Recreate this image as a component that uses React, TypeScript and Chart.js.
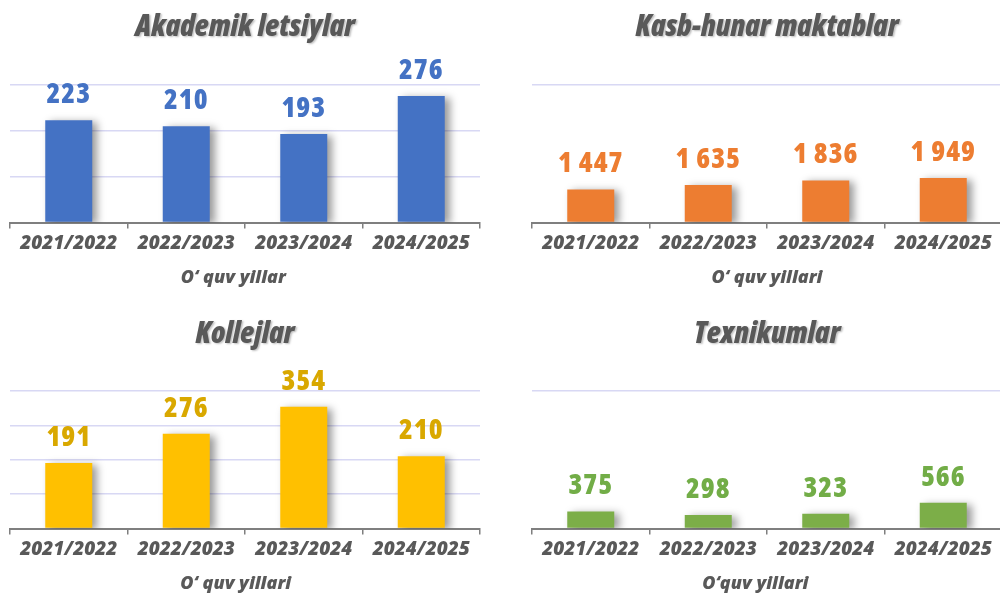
import React, { useEffect, useRef } from 'react';
import { Chart, registerables } from 'chart.js';

Chart.register(...registerables);

const categories = ['2021/2022', '2022/2023', '2023/2024', '2024/2025'];
const akademikValues = [223, 210, 193, 276];
const kasbValues = [1447, 1635, 1836, 1949];
const kollejValues = [191, 276, 354, 210];
const texnikumValues = [375, 298, 323, 566];

const panelTitles = ['Akademik letsiylar', 'Kasb-hunar maktablar', 'Kollejlar', 'Texnikumlar'];
const axisTitles = ['O‘ quv yillar     ', 'O‘ quv yillari', 'O‘ quv yillari    ', 'O‘quv yillari     '];
const yMaxValues = [300, 6000, 400, 3000];
const yStepValues = [100, 6000, 100, 3000];
const barColors = ['#4472C4', '#ED7D31', '#FFC000', '#7CAE48'];
const labelColors = ['#4472C4', '#ED7D31', '#D9A800', '#72AD47'];

const TEXT_GRAY = '#595959';
const OPEN = '"Open Sans", "DejaVu Sans Condensed", sans-serif';

const fmt = (v: number) => String(v).replace(/\B(?=(\d{3})+(?!\d))/g, ' ');

const shadowPlugin = {
  id: 'barShadow',
  beforeLayout(chart: any) {
    const tb = chart.titleBlock;
    if (tb && !tb.__shadowWrapped) {
      const orig = tb.draw.bind(tb);
      tb.draw = (...args: any[]) => {
        const ctx = chart.ctx;
        ctx.save();
        ctx.shadowColor = 'rgba(0,0,0,0.25)';
        ctx.shadowBlur = 2;
        ctx.shadowOffsetX = 1.5;
        ctx.shadowOffsetY = 1.5;
        orig(...args);
        ctx.restore();
      };
      tb.__shadowWrapped = true;
    }
  },
  beforeDatasetsDraw(chart: any) {
    const ctx = chart.ctx;
    ctx.save();
    ctx.shadowColor = 'rgba(0,0,0,0.4)';
    ctx.shadowBlur = 8;
    ctx.shadowOffsetX = 5;
    ctx.shadowOffsetY = 2;
  },
  afterDatasetsDraw(chart: any) {
    chart.ctx.restore();
  },
};

const labelPlugin = {
  id: 'valueLabels',
  afterDatasetsDraw(chart: any, _args: any, opts: any) {
    const ctx = chart.ctx;
    const meta = chart.getDatasetMeta(0);
    const data = chart.data.datasets[0].data as number[];
    ctx.save();
    ctx.font = `800 condensed 28px ${OPEN}`;
    (ctx as any).letterSpacing = '1px';
    ctx.fillStyle = opts.color;
    ctx.textAlign = 'center';
    ctx.textBaseline = 'alphabetic';
    meta.data.forEach((bar: any, i: number) => {
      ctx.fillText(fmt(data[i]), bar.x, bar.y - 17);
    });
    ctx.restore();
  },
};

type PanelProps = {
  idx: number;
  values: number[];
  left: number;
  top: number;
  width: number;
  height: number;
  padLeft: number;
  padRight: number;
  padBottom: number;
  titleTop: number;
};

function Panel({ idx, values, left, top, width, height, padLeft, padRight, padBottom, titleTop }: PanelProps) {
  const ref = useRef<HTMLCanvasElement | null>(null);
  useEffect(() => {
    if (!ref.current) return;
    const chart = new Chart(ref.current, {
      type: 'bar',
      data: {
        labels: categories,
        datasets: [
          {
            data: values,
            backgroundColor: barColors[idx],
            borderWidth: 0,
            barPercentage: 0.4,
            categoryPercentage: 1,
          },
        ],
      },
      options: {
        responsive: false,
        animation: false,
        devicePixelRatio: 1,
        layout: { padding: { left: padLeft, right: padRight, top: 0, bottom: padBottom } },
        plugins: {
          legend: { display: false },
          tooltip: { enabled: false },
          title: {
            display: true,
            text: panelTitles[idx],
            color: TEXT_GRAY,
            font: { family: OPEN, size: 30, weight: '800 semi-condensed', style: 'italic' },
            padding: { top: titleTop, bottom: 85 - 36 - titleTop },
          },
          valueLabels: { color: labelColors[idx] },
        } as any,
        scales: {
          x: {
            grid: {
              display: true,
              drawOnChartArea: false,
              drawTicks: true,
              tickLength: 6,
              color: '#7F7F7F',
              lineWidth: 1.5,
            },
            border: { display: true, color: '#7F7F7F', width: 2 },
            ticks: {
              color: TEXT_GRAY,
              font: { family: OPEN, size: 19, weight: '800', style: 'italic' },
              padding: 3.5,
              maxRotation: 0,
            },
            title: {
              display: true,
              text: axisTitles[idx],
              color: TEXT_GRAY,
              font: { family: OPEN, size: 18, weight: '800', style: 'italic' },
              padding: { top: 9, bottom: 0 },
            },
          },
          y: {
            display: true,
            min: 0,
            max: yMaxValues[idx],
            ticks: { display: false, stepSize: yStepValues[idx] },
            grid: { color: '#D8D8F4', lineWidth: 1.5, drawTicks: false },
            border: { display: false },
          },
        },
      },
      plugins: [shadowPlugin, labelPlugin],
    });
    return () => chart.destroy();
  }, []);
  return (
    <canvas
      ref={ref}
      width={width}
      height={height}
      style={{ position: 'absolute', left, top, width, height }}
    />
  );
}

export default function App() {
  return (
    <div
      style={{
        position: 'fixed',
        left: 0,
        top: 0,
        width: 1000,
        height: 593,
        overflow: 'hidden',
        background: '#ffffff',
      }}
    >
      <Panel idx={0} values={akademikValues} left={0} top={0} width={500} height={296} padLeft={10} padRight={20} padBottom={7} titleTop={9} />
      <Panel idx={1} values={kasbValues} left={500} top={0} width={510} height={296} padLeft={32} padRight={8} padBottom={7} titleTop={9} />
      <Panel idx={2} values={kollejValues} left={0} top={306} width={500} height={290} padLeft={10} padRight={20} padBottom={1} titleTop={10} />
      <Panel idx={3} values={texnikumValues} left={500} top={306} width={510} height={290} padLeft={32} padRight={8} padBottom={1} titleTop={10} />
    </div>
  );
}
